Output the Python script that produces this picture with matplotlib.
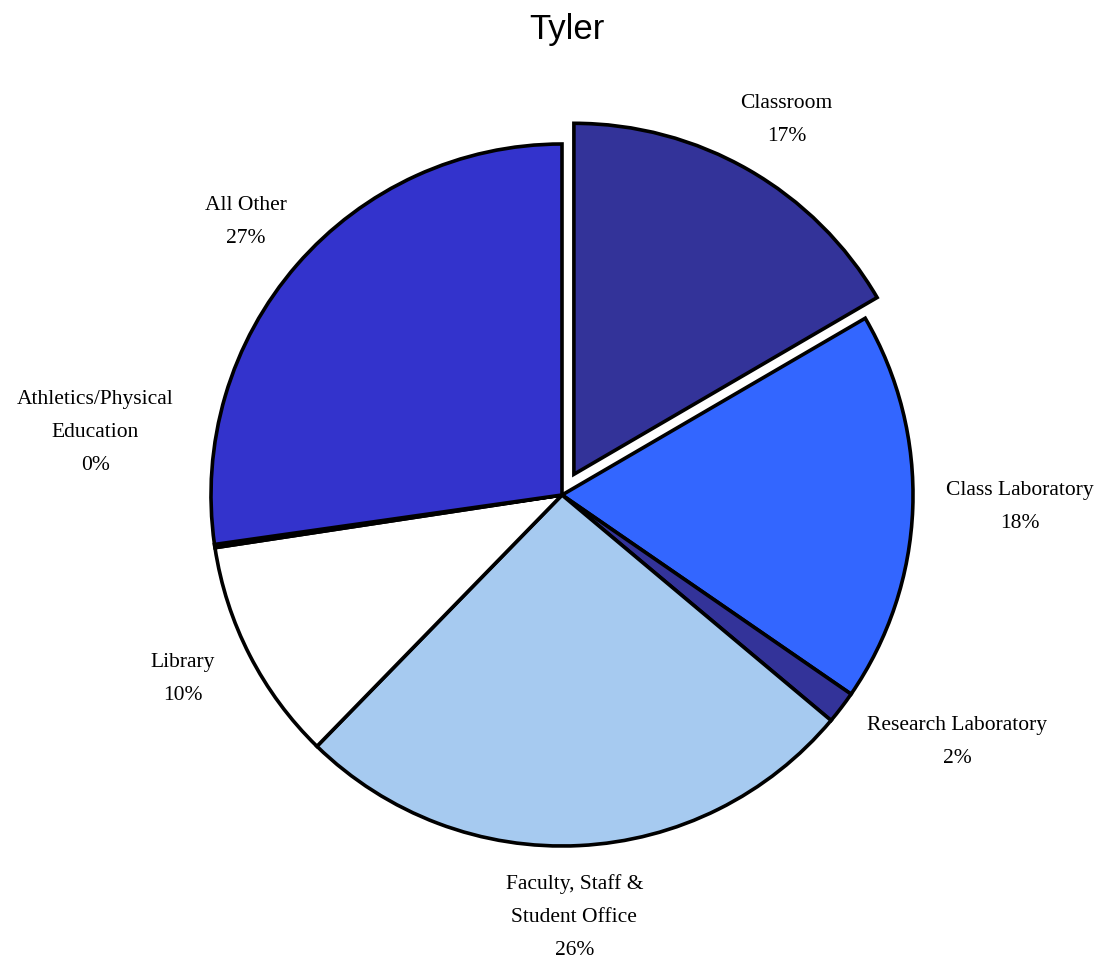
import matplotlib
matplotlib.use("Agg")
import matplotlib.pyplot as plt

# slice data, clockwise from 12 o'clock
categories = ["Classroom", "Class Laboratory", "Research Laboratory",
              "Faculty, Staff &\nStudent Office", "Library",
              "Athletics/Physical\nEducation", "All Other"]
values = [16.6, 18.0, 1.5, 26.2, 10.3, 0.15, 27.25]
colors = ["#333399", "#3366FF", "#333399", "#A6CAF0", "#FFFFFF", "#333399", "#3333CC"]
explode = [0.068, 0, 0, 0, 0, 0, 0]

# label centres in pie units (radius = 1)
label_pos = [(0.64, 1.07), (1.305, -0.03), (1.125, -0.70), (0.035, -1.20),
             (-1.08, -0.52), (-1.33, 0.18), (-0.90, 0.78)]

W, H = 1101, 962
cx, cy, r = 562, 496, 351

fig = plt.figure(figsize=(W / 100, H / 100), dpi=100)
ax = fig.add_axes([0, 0, 1, 1])

ax.pie(values, colors=colors, explode=explode, startangle=90, counterclock=False,
       radius=1, wedgeprops=dict(edgecolor="black", linewidth=2.6))

for name, v, (x, y) in zip(categories, values, label_pos):
    ax.text(x, y, f"{name}\n{v:.0f}%", ha="center", va="center",
            fontsize=15.5, family="Liberation Serif", linespacing=2.0)

ax.set_xlim(-cx / r, (W - cx) / r)
ax.set_ylim(-(H - cy) / r, cy / r)
ax.set_aspect("equal")
ax.axis("off")

fig.text(0.515, 1 - 30 / H, "Tyler", ha="center", va="center",
         fontsize=25, family="Liberation Sans")

fig.savefig("out.png", dpi=100)
